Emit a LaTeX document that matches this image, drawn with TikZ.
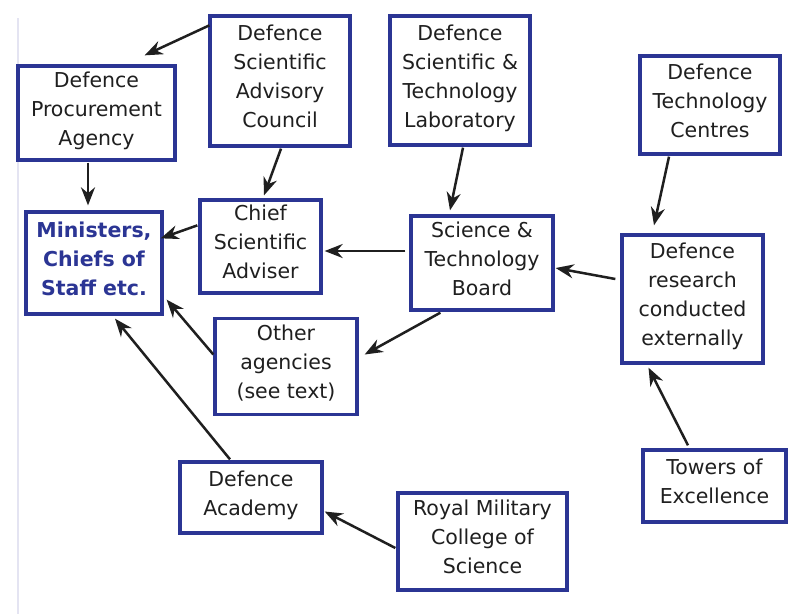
\documentclass[tikz,border=0pt]{standalone}
\usepackage{fontspec}
\setmainfont{DejaVu Sans}
\usetikzlibrary{arrows.meta,calc}
\definecolor{boxblue}{HTML}{2B3594}
\definecolor{edgeline}{HTML}{E4E4F2}
\begin{document}
\begin{tikzpicture}[x=1pt,y=-1pt,
  box/.style={draw=boxblue,line width=3.3pt,fill=white,align=center,inner sep=0pt,
    font=\fontsize{20.5}{29}\selectfont,text=black!88,text depth=9pt},
  arr/.style={-{Stealth[length=18pt,width=14pt]},line width=2.5pt,black!88}]
\fill[white] (0,0) rectangle (805,614);
\useasboundingbox (0,0) rectangle (805,614);
\draw[edgeline,line width=1.5pt] (18,18) -- (18,614);
\node[box,minimum width=157pt,minimum height=94pt] (dpa) at (96.5,113) {Defence\\Procurement\\Agency};
\node[box,minimum width=140pt,minimum height=130pt] (dsac) at (280,81) {Defence\\Scientific\\Advisory\\Council};
\node[box,minimum width=136pt,minimum height=102pt,text=boxblue,font=\fontsize{20.5}{29}\selectfont\bfseries] (min) at (94,263) {Ministers,\\Chiefs of\\Staff etc.};
\node[box,minimum width=121pt,minimum height=93pt] (csa) at (260.5,246.5) {Chief\\Scientific\\Adviser};
\node[box,minimum width=140pt,minimum height=129pt] (dstl) at (460,80.5) {Defence\\Scientific \&\\Technology\\Laboratory};
\node[box,minimum width=140pt,minimum height=98pt] (dtc) at (710,105) {Defence\\Technology\\Centres};
\node[box,minimum width=142pt,minimum height=94pt] (stb) at (482,263) {Science \&\\Technology\\Board};
\node[box,minimum width=141pt,minimum height=128pt] (drex) at (692.5,299) {Defence\\research\\conducted\\externally};
\node[box,minimum width=143pt,minimum height=72pt] (tow) at (714.5,486) {Towers of\\Excellence};
\node[box,minimum width=169pt,minimum height=97pt] (rmcs) at (482.5,541.5) {Royal Military\\College of\\Science};
\node[box,minimum width=142pt,minimum height=96pt] (oth) at (286,366.5) {Other\\agencies\\(see text)};
\node[box,minimum width=142pt,minimum height=71pt] (acad) at (251,497.5) {Defence\\Academy};
% connectors
\draw[arr] ($(dsac.north west)+(1,11)$) -- ($(dpa.north east)+(-32,-9)$);
\draw[arr] ($(dpa.south)+(-8.5,1)$) -- ($(min.north)+(-6,-5)$);
\draw[arr] ($(dsac.south)+(1,1)$) -- ($(csa.north)+(3.5,-3)$);
\draw[arr] ($(csa.north west)+(-1,27)$) -- ($(min.north east)+(-3,28)$);
\draw[arr] ($(stb.west)+(-4,-12)$) -- ($(csa.east)+(2,4.5)$);
\draw[arr] ($(dstl.south)+(3,1)$) -- ($(stb.north)+(-32,-4)$);
\draw[arr] ($(dtc.south)+(-41,1)$) -- ($(drex.north)+(-38.5,-8)$);
\draw[arr] ($(drex.west)+(-5,-20)$) -- ($(stb.east)+(1,5)$);
\draw[arr] ($(stb.south west)+(31,1)$) -- ($(oth.east)+(6,-12)$);
\draw[arr] ($(oth.west)+(0,-12)$) -- ($(min.south east)+(3,-16)$);
\draw[arr] ($(tow.north)+(-26.5,-3)$) -- ($(drex.south)+(-44,3)$);
\draw[arr] ($(acad.north)+(-21,-1)$) -- ($(min.south)+(21,3)$);
\draw[arr] ($(rmcs.west)+(-1,6.5)$) -- ($(acad.east)+(1,14)$);
\end{tikzpicture}
\end{document}
